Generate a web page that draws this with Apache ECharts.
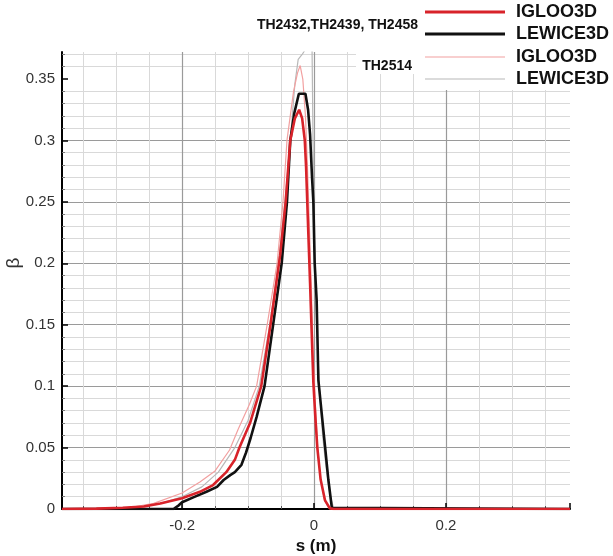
<!DOCTYPE html>
<html>
<head>
<meta charset="utf-8">
<script src="https://cdn.jsdelivr.net/npm/echarts@6/dist/echarts.min.js"></script>
<style>
  html, body { margin: 0; padding: 0; background: #fff; }
  #chart { width: 613px; height: 556px; }
</style>
</head>
<body>
<div id="chart"></div>
<script>
// ---- Data (s in m, beta) ----
const igloo1S = [-0.382, -0.33, -0.29, -0.258, -0.233, -0.2, -0.173, -0.153, -0.133, -0.12, -0.113, -0.097, -0.08, -0.066, -0.0515, -0.043, -0.036, -0.029, -0.0225, -0.018, -0.014, -0.012, -0.0086, -0.006, -0.0035, -0.001, 0.002, 0.005, 0.010, 0.0167, 0.024, 0.03, 0.388];
const igloo1B = [0, 0.0003, 0.001, 0.002, 0.0045, 0.0088, 0.014, 0.0195, 0.03, 0.04, 0.05, 0.07, 0.1, 0.15, 0.206, 0.25, 0.3, 0.318, 0.325, 0.318, 0.3, 0.278, 0.224, 0.184, 0.143, 0.103, 0.075, 0.05, 0.024, 0.007, 0.0005, 0, 0];

const lewice1S = [-0.382, -0.213, -0.205, -0.2, -0.183, -0.163, -0.147, -0.137, -0.127, -0.12, -0.11, -0.103, -0.096, -0.087, -0.075, -0.062, -0.049, -0.041, -0.036, -0.030, -0.023, -0.013, -0.009, -0.006, -0.003, -0.001, 0.001, 0.004, 0.0066, 0.0116, 0.0167, 0.0217, 0.027, 0.03, 0.388];
const lewice1B = [0, 0, 0.003, 0.0055, 0.0095, 0.014, 0.018, 0.0236, 0.0276, 0.03, 0.036, 0.046, 0.058, 0.075, 0.1, 0.15, 0.2, 0.25, 0.3, 0.322, 0.338, 0.338, 0.325, 0.305, 0.27, 0.25, 0.2, 0.17, 0.105, 0.078, 0.051, 0.024, 0.001, 0, 0];

const igloo2S = [-0.382, -0.33, -0.29, -0.27, -0.243, -0.2, -0.173, -0.15, -0.128, -0.115, -0.098, -0.087, -0.071, -0.056, -0.047, -0.041, -0.031, -0.025, -0.021, -0.017, -0.013, -0.01, -0.007, -0.004, -0.0015, 0.002, 0.0055, 0.010, 0.016, 0.022, 0.027, 0.388];
const igloo2B = [0, 0.0002, 0.0008, 0.002, 0.0046, 0.013, 0.022, 0.031, 0.048, 0.065, 0.085, 0.1, 0.15, 0.2, 0.25, 0.3, 0.34, 0.355, 0.361, 0.35, 0.32, 0.28, 0.23, 0.18, 0.13, 0.085, 0.05, 0.024, 0.007, 0.001, 0, 0];

const lewice2S = [-0.382, -0.3, -0.26, -0.23, -0.2, -0.17, -0.145, -0.12, -0.1, -0.083, -0.067, -0.054, -0.044, -0.036, -0.029, -0.024, -0.018, -0.012, -0.003, -0.0015, 0.001, 0.004, 0.008, 0.013, 0.018, 0.024, 0.03, 0.388];
const lewice2B = [0, 0.0005, 0.002, 0.005, 0.01, 0.018, 0.03, 0.05, 0.072, 0.1, 0.15, 0.2, 0.25, 0.3, 0.346, 0.366, 0.37, 0.375, 0.375, 0.3, 0.2, 0.15, 0.1, 0.06, 0.035, 0.012, 0, 0];

const yTickValues = [0, 0.05, 0.1, 0.15, 0.2, 0.25, 0.3, 0.35];
const groupLabels = ['TH2432,TH2439, TH2458', 'TH2514'];
const legendNames = ['IGLOO3D', 'LEWICE3D', 'IGLOO3D', 'LEWICE3D'];
const yAxisTitle = 'β';

const pairs = (xs, ys) => xs.map((x, i) => [x, ys[i]]);
const FONT = '"Liberation Sans", Arial, Helvetica, sans-serif';

const chart = echarts.init(document.getElementById('chart'), null, { renderer: 'canvas' });

const legendColors = ['#d8232a', '#111111', '#f2a0a0', '#b8b8b8'];
const legendWidths = [3, 3, 1.2, 1.2];
const legendYs = [12, 34, 57, 79];

const graphics = [
  { type: 'rect', shape: { x: 356, y: 0, width: 257, height: 74 }, style: { fill: '#fff' }, z: 50 },
  { type: 'rect', shape: { x: 414, y: 0, width: 199, height: 90 }, style: { fill: '#fff' }, z: 50 },
  { type: 'text', x: 418, y: 25, style: { text: groupLabels[0], font: 'bold 14px ' + FONT, fill: '#111', align: 'right', verticalAlign: 'middle' }, z: 51 },
  { type: 'text', x: 412, y: 66, style: { text: groupLabels[1], font: 'bold 14px ' + FONT, fill: '#111', align: 'right', verticalAlign: 'middle' }, z: 51 },
  { type: 'text', x: 14, y: 263, rotation: Math.PI / 2, style: { text: yAxisTitle, font: '19px ' + FONT, fill: '#333', align: 'center', verticalAlign: 'middle' }, z: 51 }
];
legendNames.forEach((n, i) => {
  graphics.push({ type: 'line', shape: { x1: 425, y1: legendYs[i], x2: 505, y2: legendYs[i] }, style: { stroke: legendColors[i], lineWidth: legendWidths[i] }, z: 51 });
  graphics.push({ type: 'text', x: 516, y: legendYs[i], style: { text: n, font: 'bold 18px ' + FONT, fill: '#111', align: 'left', verticalAlign: 'middle' }, z: 51 });
});

const xFmt = v => {
  const r = Math.round(v * 100) / 100;
  if (Math.abs(r - v) > 1e-6) return '';
  return Math.abs(r) < 1e-9 ? '0' : String(r);
};

const option = {
  animation: false,
  backgroundColor: '#fff',
  textStyle: { fontFamily: FONT },
  grid: { left: 62, right: 43, top: 52, bottom: 47, containLabel: false, outerBoundsMode: 'none' },
  xAxis: {
    type: 'value', min: -0.382, max: 0.388, splitNumber: 4,
    name: 's (m)', nameLocation: 'middle', nameGap: 27,
    nameTextStyle: { fontSize: 17, fontWeight: 'bold', color: '#111', fontFamily: FONT },
    axisLine: { show: true, onZero: false, lineStyle: { color: '#000', width: 2 } },
    axisTick: { show: true, inside: true, length: 6, lineStyle: { color: '#000', width: 1.5 } },
    minorTick: { show: true, splitNumber: 4, length: 3, lineStyle: { color: '#555', width: 1 } },
    axisLabel: { showMinLabel: false, showMaxLabel: false, fontSize: 15, color: '#333', margin: 9, fontFamily: FONT,
      formatter: xFmt },
    splitLine: { show: true, showMinLine: false, showMaxLine: false, lineStyle: { color: '#9a9a9a', width: 1.2 } },
    minorSplitLine: { show: true, lineStyle: { color: '#d9d9d9', width: 1 } }
  },
  yAxis: {
    type: 'value', min: 0, max: 0.372, interval: 0.05,
    axisLine: { show: true, onZero: false, lineStyle: { color: '#000', width: 2 } },
    axisTick: { show: true, inside: true, length: 6, customValues: yTickValues, lineStyle: { color: '#000', width: 1.5 } },
    minorTick: { show: true, splitNumber: 5, length: 3, lineStyle: { color: '#777', width: 1 } },
    axisLabel: { customValues: yTickValues, fontSize: 15, color: '#333', margin: 7, fontFamily: FONT },
    splitLine: { show: true, showMinLine: false, showMaxLine: false, lineStyle: { color: '#9a9a9a', width: 1.2 } },
    minorSplitLine: { show: true, lineStyle: { color: '#d9d9d9', width: 1 } }
  },
  series: [
    { name: 'LEWICE3D TH2514', type: 'line', data: pairs(lewice2S, lewice2B), showSymbol: false, clip: true,
      lineStyle: { color: legendColors[3], width: 1.2 }, z: 2 },
    { name: 'IGLOO3D TH2514', type: 'line', data: pairs(igloo2S, igloo2B), showSymbol: false, clip: true,
      lineStyle: { color: legendColors[2], width: 1.2 }, z: 3 },
    { name: 'LEWICE3D', type: 'line', data: pairs(lewice1S, lewice1B), showSymbol: false, clip: true,
      lineStyle: { color: legendColors[1], width: 2.6 }, z: 4 },
    { name: 'IGLOO3D', type: 'line', data: pairs(igloo1S, igloo1B), showSymbol: false, clip: true,
      lineStyle: { color: legendColors[0], width: 2.6 }, z: 5 }
  ],
  graphic: graphics
};
chart.setOption(option);
</script>
</body>
</html>
